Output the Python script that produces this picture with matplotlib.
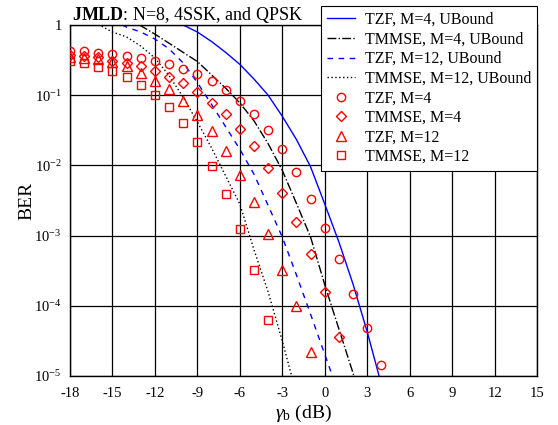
import numpy as np
import matplotlib
matplotlib.use('Agg')
import matplotlib.pyplot as plt

# ---- data (gamma_b in dB, BER) ----
# simulation points
snr_tzf4 = np.arange(-18, 5)
ber_tzf4 = [0.431, 0.422, 0.403, 0.386, 0.366, 0.339, 0.307, 0.275, 0.236, 0.200,
            0.159, 0.117, 0.0836, 0.0540, 0.0324, 0.0170, 0.00805, 0.00337, 0.00130,
            4.59e-4, 1.48e-4, 4.9e-5, 1.45e-5]

snr_tmmse4 = np.arange(-18, 2)
ber_tmmse4 = [0.374, 0.363, 0.347, 0.309, 0.292, 0.257, 0.221, 0.182, 0.149, 0.112,
              0.0782, 0.0535, 0.0330, 0.0187, 0.0091, 0.00405, 0.00155, 5.47e-4,
              1.58e-4, 3.55e-5]

snr_tzf12 = np.arange(-18, 0)
ber_tzf12 = [0.350, 0.339, 0.328, 0.297, 0.261, 0.205, 0.159, 0.121, 0.0835, 0.0527,
             0.0309, 0.0163, 0.00730, 0.00298, 0.00104, 3.24e-4, 9.93e-5, 2.22e-5]

snr_tmmse12 = np.arange(-18, -3)
ber_tmmse12 = [0.307, 0.285, 0.255, 0.219, 0.180, 0.138, 0.0997, 0.0673, 0.0408,
               0.0218, 0.00990, 0.00388, 0.00123, 3.21e-4, 6.28e-5]

# upper bounds
snr_ub_tzf4 = np.arange(-11, 5)
ub_tzf4 = [1.2, 1.0, 0.794, 0.582, 0.407, 0.275, 0.170, 0.100, 0.0501, 0.0234,
           0.00955, 0.00282, 8.13e-4, 2.04e-4, 4.27e-5, 7.6e-6]

snr_ub_tmmse4 = np.arange(-14, 4)
ub_tmmse4 = [1.26, 0.977, 0.741, 0.550, 0.407, 0.302, 0.195, 0.126, 0.0776, 0.0432,
             0.0204, 0.00851, 0.00288, 9.55e-4, 2.0e-4, 4.68e-5, 1.10e-5, 2.0e-6]

snr_ub_tzf12 = np.arange(-15, 2)
ub_tzf12 = [1.2, 0.933, 0.794, 0.631, 0.457, 0.288, 0.151, 0.0741, 0.0355, 0.0170,
            0.0075, 0.00269, 9.55e-4, 2.75e-4, 7.59e-5, 2.04e-5, 5.5e-6]

snr_ub_tmmse12 = np.arange(-16, -1)
ub_tmmse12 = [1.02, 0.794, 0.676, 0.501, 0.339, 0.191, 0.0933, 0.0417, 0.0178,
              0.00708, 0.00282, 6.31e-4, 1.58e-4, 3.16e-5, 5.6e-6]

x_ticks = np.arange(-18, 16, 3)
y_ticks = [1e-5, 1e-4, 1e-3, 1e-2, 1e-1, 1]
y_ticklabels = [r'10$^{\mathregular{-5}}$', r'10$^{\mathregular{-4}}$',
                r'10$^{\mathregular{-3}}$', r'10$^{\mathregular{-2}}$',
                r'10$^{\mathregular{-1}}$', '1']

plt.rcParams['font.family'] = ['Liberation Serif', 'DejaVu Serif']
plt.rcParams['mathtext.fontset'] = 'custom'
plt.rcParams['mathtext.rm'] = 'Liberation Serif'
plt.rcParams['mathtext.it'] = 'Liberation Serif:italic'
plt.rcParams['mathtext.bf'] = 'Liberation Serif:bold'
plt.rcParams['axes.unicode_minus'] = False

fig = plt.figure(figsize=(5.58, 4.25), dpi=100)
ax = fig.add_axes([70 / 558, 1 - 376 / 425, 467 / 558, 351 / 425])

# bounds
ax.plot(snr_ub_tzf4, ub_tzf4, color='blue', lw=1.0, ls='-', label='TZF, M=4, UBound')
ax.plot(snr_ub_tmmse4, ub_tmmse4, color='black', lw=1.0, ls='-.', label='TMMSE, M=4, UBound')
ax.plot(snr_ub_tzf12, ub_tzf12, color='blue', lw=1.0, ls=(0, (4, 4)), label='TZF, M=12, UBound')
ax.plot(snr_ub_tmmse12, ub_tmmse12, color='black', lw=1.0, ls=(0, (1, 1.8)), label='TMMSE, M=12, UBound')

# simulations
mk = dict(ls='none', mfc='none', mec='red', mew=1.0, color='red', zorder=3)
ax.plot(snr_tzf4, ber_tzf4, marker='o', ms=6, label='TZF, M=4', **mk)
ax.plot(snr_tmmse4, ber_tmmse4, marker='D', ms=4.6, label='TMMSE, M=4', **mk)
ax.plot(snr_tzf12, ber_tzf12, marker='^', ms=6.5, label='TZF, M=12', **mk)
ax.plot(snr_tmmse12, ber_tmmse12, marker='s', ms=6, label='TMMSE, M=12', **mk)

ax.set_yscale('log')
ax.set_xlim(-18, 15)
ax.set_ylim(1e-5, 1)
ax.set_xticks(x_ticks)
ax.set_yticks(y_ticks)
ax.set_yticklabels(y_ticklabels)
ax.minorticks_off()
ax.tick_params(length=0, labelsize=10.5)
ax.tick_params(axis='x', pad=8)
ax.tick_params(axis='y', pad=6)
ax.grid(True, color='black', lw=0.9)
for s in ax.spines.values():
    s.set_linewidth(1.0)

ax.set_xlabel(r'$\gamma_\mathregular{b}$ (dB)', fontsize=14, labelpad=2)
ax.set_ylabel('BER', fontsize=14, labelpad=-1)

fig.text(72 / 558, 1 - 20 / 425, r'$\mathbf{JMLD}$: N=8, 4SSK, and QPSK', fontsize=13,
         ha='left', va='baseline')

leg = ax.legend(loc='upper right', bbox_to_anchor=(537.3 / 558, 1 - 5.7 / 425),
                bbox_transform=fig.transFigure, borderaxespad=0, fontsize=11.5,
                fancybox=False, framealpha=1, edgecolor='black',
                handlelength=1.75, handletextpad=0.6, labelspacing=0.22,
                borderpad=0.4)
leg.get_frame().set_linewidth(0.8)

fig.savefig('out.png', dpi=100)
